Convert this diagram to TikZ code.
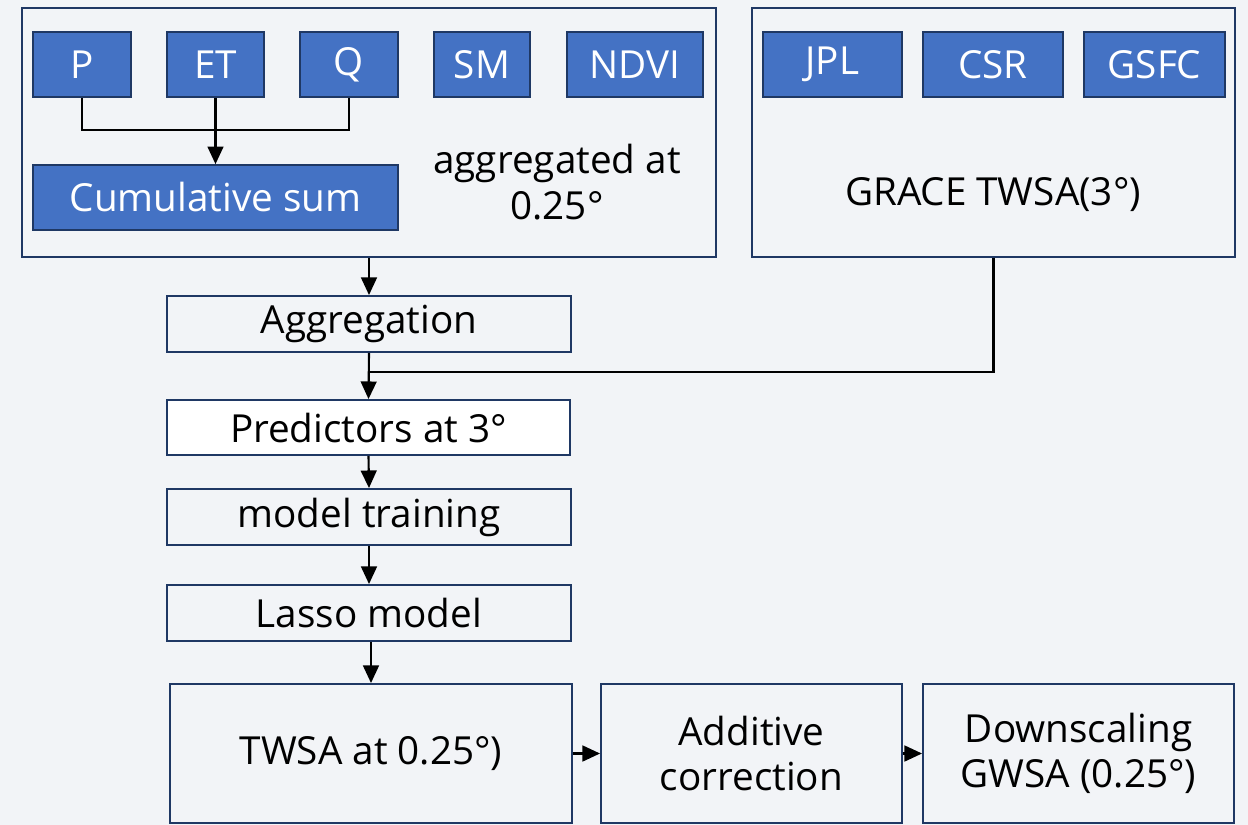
\documentclass[tikz,border=0pt]{standalone}
\usepackage{fontspec}
\setmainfont{Open Sans}
\usepackage{tikz}
\usetikzlibrary{arrows.meta}
\definecolor{bg_gray}{HTML}{F2F4F7}
\definecolor{box_blue}{HTML}{4472C4}
\definecolor{edge_navy}{HTML}{1F3864}
\newlength\px
\setlength\px{0.02cm}

\tikzset{
  outerbox/.style={draw=edge_navy, line width=1.1pt, fill=bg_gray},
  bluebox/.style={draw=edge_navy, line width=1pt, fill=box_blue, text=white, font=\fontsize{22}{26}\selectfont},
  stepbox/.style={draw=edge_navy, line width=1.1pt, fill=bg_gray, font=\fontsize{22}{26}\selectfont, align=center},
  plain/.style={font=\fontsize{22}{26}\selectfont, align=center},
  link/.style={line width=1.2pt, -{Triangle[length=10pt, width=9pt]}}
}

\begin{document}
\begin{tikzpicture}[x=0.02cm, y=-0.02cm]
  \fill[bg_gray] (0,0) rectangle (1248,825);
  \useasboundingbox (0,0) rectangle (1248,825);

  % input data blocks
  \node (left) at (369,132.5) [outerbox, minimum width=694\px, minimum height=249\px]{};
  \node (right) at (993.5,132.5) [outerbox, minimum width=483\px, minimum height=249\px]{};

  \node (p) at (82,64.5) [bluebox, minimum width=98\px, minimum height=65\px]{P};
  \node (et) at (215.5,64.5) [bluebox, minimum width=97\px, minimum height=65\px]{ET};
  \node (q) at (349,64.5) [bluebox, minimum width=98\px, minimum height=65\px]{Q};
  \node (sm) at (482,64.5) [bluebox, minimum width=96\px, minimum height=65\px]{SM};
  \node (ndvi) at (635,64.5) [bluebox, minimum width=136\px, minimum height=65\px]{NDVI};
  \node (cum) at (215.5,197.5) [bluebox, minimum width=365\px, minimum height=65\px]{Cumulative sum};
  \node (aggtext) at (557,182) [plain]{aggregated at\\0.25°};

  \node (jpl) at (832.5,64.5) [bluebox, minimum width=139\px, minimum height=65\px]{JPL};
  \node (csr) at (993,64.5) [bluebox, minimum width=140\px, minimum height=65\px]{CSR};
  \node (gsfc) at (1154.5,64.5) [bluebox, minimum width=141\px, minimum height=65\px]{GSFC};
  \node (grace) at (993,195) [plain]{GRACE TWSA(3°)};

  % processing chain
  \node (aggr) at (369,324) [stepbox, minimum width=404\px, minimum height=56\px]{Aggregation};
  \node (pred) at (368.5,427.5) [stepbox, fill=white, minimum width=403\px, minimum height=55\px]{Predictors at 3°};
  \node (train) at (369,517) [stepbox, minimum width=404\px, minimum height=56\px]{model training};
  \node (lasso) at (369,613) [stepbox, minimum width=404\px, minimum height=56\px]{Lasso model};
  \node (twsa) at (371,753.5) [stepbox, minimum width=402\px, minimum height=139\px]{TWSA at 0.25°)};
  \node (addc) at (751.5,753.5) [stepbox, minimum width=301\px, minimum height=139\px]{Additive\\correction};
  \node (down) at (1078.5,753.5) [stepbox, minimum width=311\px, minimum height=139\px]{Downscaling\\GWSA (0.25°)};

  \coordinate (join) at (369,372);

  \draw[line width=1.2pt] (p.south) |- (q.south |- 0,130) -- (q.south);
  \draw[link] (et.south) -- (cum.north);
  \draw[link] (left.south -| aggr.north) -- (aggr.north);
  \draw[line width=1.2pt] (right.south) |- (join);
  \draw[link] (aggr.south) -- (pred.north);
  \draw[link] (pred.south) -- (train.north);
  \draw[link] (train.south) -- (lasso.north);
  \draw[link] (lasso.south -| twsa.north) -- (twsa.north);
  \draw[link] (twsa.east) -- (addc.west);
  \draw[link] (addc.east) -- (down.west);
\end{tikzpicture}
\end{document}
